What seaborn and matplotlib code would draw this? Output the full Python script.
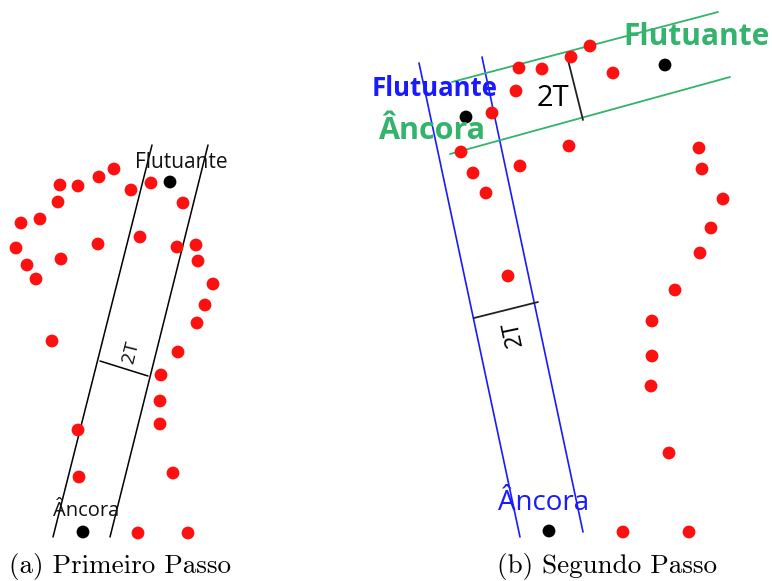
import matplotlib
matplotlib.use("Agg")
import matplotlib.pyplot as plt
import seaborn as sns
import pandas as pd

sns.set_theme(style="white")

# ---- data (pixel-like coordinates) ----
# Panel (a) points
a_red_x = [60, 78, 99, 114, 131, 151, 183, 58, 21, 40, 16, 27, 36, 61, 98, 140, 177, 196, 198, 213, 205, 197,
           52, 178, 161, 160, 160, 78, 79, 173, 138, 188]
a_red_y = [185, 186, 177, 169, 190, 183, 203, 202, 223, 219, 248, 265, 279, 259, 244, 237, 247, 245, 261, 284, 305, 323,
           341, 352, 375, 401, 424, 430, 477, 473, 533, 533]
a_black_x = [170, 83]
a_black_y = [182, 532]

# Panel (b) points
b_red_x = [519, 542, 571, 590, 613, 516, 492, 461, 569, 520, 473, 486, 699, 702, 723, 711, 700, 675, 652, 652, 651,
           508, 669, 623, 689]
b_red_y = [68, 69, 57, 46, 73, 91, 113, 152, 146, 166, 173, 193, 148, 169, 199, 228, 253, 290, 321, 356, 386,
           276, 453, 532, 532]
b_black_x = [665, 466, 549]
b_black_y = [65, 117, 531]

# Guide lines: (x0, y0, x1, y1)
a_lines = [(152, 145, 53, 537), (208, 145, 110, 537)]
a_bar = (100, 361, 148, 376)
b_blue_lines = [(419, 63, 520, 537), (482, 57, 583, 532)]
b_blue_bar = (474, 318, 538, 302)
b_green_lines = [(452, 82, 718, 12), (450, 154, 730, 77)]
b_green_bar = (568, 60, 583, 120)

captions = ["(a) Primeiro Passo", "(b) Segundo Passo"]

# ---- build table ----
df = pd.DataFrame({
    "x": a_red_x + a_black_x + b_red_x + b_black_x,
    "y": a_red_y + a_black_y + b_red_y + b_black_y,
    "kind": (["ponto"] * len(a_red_x) + ["âncora"] * len(a_black_x)
             + ["ponto"] * len(b_red_x) + ["âncora"] * len(b_black_x)),
})

fig = plt.figure(figsize=(7.72, 5.81), dpi=100)
ax = fig.add_axes([0, 0, 1, 1])
ax.set_xlim(0, 772)
ax.set_ylim(581, 0)
ax.axis("off")

BLUE = "#1a1aff"
GREEN = "#33b36b"

def seg(s, **kw):
    ax.plot([s[0], s[2]], [s[1], s[3]], **kw)

for s in a_lines:
    seg(s, color="black", lw=1.1, zorder=1)
seg(a_bar, color="black", lw=1.1, zorder=1)
for s in b_blue_lines:
    seg(s, color=BLUE, lw=1.2, zorder=1)
seg(b_blue_bar, color="#222222", lw=1.3, zorder=1)
for s in b_green_lines:
    seg(s, color=GREEN, lw=1.3, zorder=1)
seg(b_green_bar, color="#222222", lw=1.3, zorder=1)

sns.scatterplot(data=df, x="x", y="y", hue="kind",
                palette={"ponto": "#ff1010", "âncora": "black"},
                s=85, linewidth=0, legend=False, ax=ax, zorder=3)
ax.set_xlim(0, 772)
ax.set_ylim(581, 0)

lab = "Open Sans"
ax.text(181, 162, "Flutuante", fontsize=15, family=lab, ha="center", va="center", color="#111111", zorder=4)
ax.text(86, 511, "Âncora", fontsize=14.5, family=lab, ha="center", va="center", color="#111111", zorder=4)
ax.text(131, 352, "2T", fontsize=14, family=lab, ha="center", va="center", rotation=76, color="#111111")

ax.text(435, 88, "Flutuante", fontsize=18.5, family=lab, weight="bold", ha="center", va="center", color=BLUE, zorder=4)
ax.text(696, 37, "Flutuante", fontsize=21.5, family=lab, weight="bold", ha="center", va="center", color=GREEN, zorder=4)
ax.text(432, 131, "Âncora", fontsize=22, family=lab, weight="bold", ha="center", va="center", color=GREEN, zorder=4)
ax.text(544, 503, "Âncora", fontsize=20, family=lab, ha="center", va="center", color=BLUE, zorder=4)
ax.text(553, 98, "2T", fontsize=21, family=lab, ha="center", va="center", color="black")
ax.text(513, 333, "2T", fontsize=17, family=lab, ha="center", va="center", rotation=102, color="black")

ax.text(120, 566, captions[0], fontsize=19.5, family="cmr10", ha="center", va="center", color="black")
ax.text(607, 566, captions[1], fontsize=19.5, family="cmr10", ha="center", va="center", color="black")

fig.savefig("out.png", dpi=100)
